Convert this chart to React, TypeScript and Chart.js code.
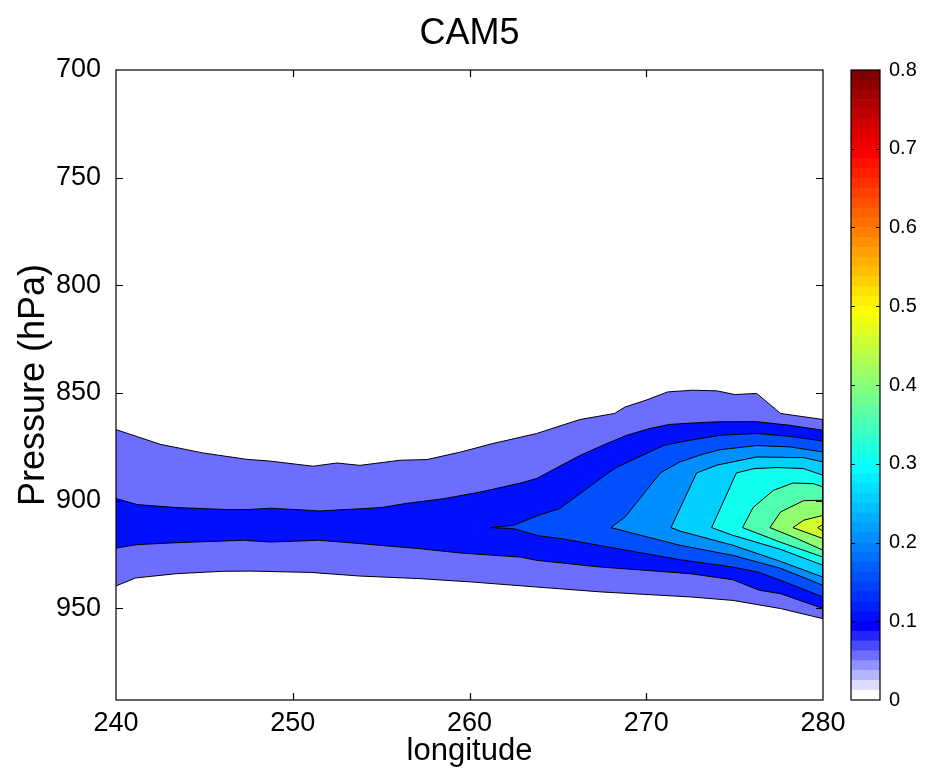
import React, { useEffect, useRef } from 'react';
import { Chart, registerables } from 'chart.js';

Chart.register(...registerables);

// ---------- text ----------
const titleText = 'CAM5';
const xLabel = 'longitude';
const yLabel = 'Pressure (hPa)';

// ---------- axes ----------
const lonMin = 240;
const lonMax = 280;
const lonStep = 10;
const pTop = 700;
const pBottom = 992.556;
const pStep = 50;

// ---------- colour bar ----------
const cbarMin = 0;
const cbarMax = 0.8;
const cbarCount = 64;
const cbarTickStep = 0.1;

// ---------- contour levels ----------
const levels = [0.05, 0.1, 0.15, 0.2, 0.25, 0.3, 0.35, 0.4, 0.45, 0.5];

// ---------- contour polygons (longitude, pressure) ----------
const lon05 = [240, 242.5, 244.9, 247.4, 248.7, 251.15, 252.5, 253.8, 256.1, 257.6, 259.5, 261.3, 263.8, 266.25, 268.2, 268.8, 270.0, 271.2, 272.6, 274.0, 275.0, 276.25, 277.6, 280,
  280, 277.6, 274.9, 272.5, 267.5, 263.8, 260.2, 257.2, 253.8, 251.0, 247.6, 246.0, 243.4, 241.1, 240];
const p05 = [867.0, 873.8, 877.8, 880.8, 881.6, 884.0, 882.5, 883.6, 881.2, 880.9, 877.4, 873.5, 868.8, 862.3, 859.5, 856.5, 853.3, 849.5, 848.7, 849.0, 850.7, 850.2, 859.5, 862.3,
  954.8, 950.1, 946.3, 944.7, 942.4, 940.1, 937.8, 936.2, 935.0, 933.3, 932.7, 932.8, 933.9, 935.9, 939.6];

const lon10 = [240, 241.2, 243.4, 246.25, 247.5, 248.75, 251.0, 251.5, 255.0, 256.4, 258.6, 260.6, 262.9, 263.8, 266.25, 267.76, 268.9, 270.2, 271.3, 272.66, 273.98, 276.25, 278.13, 280,
  280, 277.6, 276.4, 274.9, 272.5, 267.4, 263.8, 262.9, 259.5, 257.2, 254.9, 253.8, 251.5, 248.7, 247.2, 243.4, 241.2, 240];
const p10 = [899.0, 901.8, 903.2, 904.1, 904.1, 903.5, 904.5, 904.8, 903.2, 901.3, 899.0, 896.0, 891.8, 889.7, 879.0, 873.5, 869.6, 866.5, 864.6, 863.9, 863.4, 863.3, 865.0, 867.3,
  950.1, 943.2, 941.6, 936.7, 933.9, 930.8, 927.7, 926.2, 924.3, 922.3, 920.7, 919.9, 918.4, 919.2, 918.4, 919.5, 920.4, 922.0];

const lon15 = [261.2, 262.5, 263.9, 265.1, 267.8, 268.3, 271.0, 272.5, 274.2, 276.25, 278.1, 280,
  280, 277.6, 276.4, 274.9, 271.9, 265.1, 263.9, 262.5, 261.2];
const p15 = [912.5, 911.4, 906.8, 903.7, 887.4, 884.6, 874.3, 871.9, 869.6, 868.8, 870.1, 872.3,
  944.7, 937.0, 933.3, 930.8, 927.4, 917.5, 916.3, 913.0, 912.5];

const lon20 = [268.0, 268.8, 270.8, 271.9, 273.2, 274.2, 276.25, 278.1, 280, 280, 277.6, 274.9, 271.9, 268.0];
const p20 = [912.5, 907.6, 887.1, 882.0, 878.4, 876.3, 874.4, 875.0, 877.4, 939.3, 931.4, 925.4, 920.7, 912.5];

const lon25 = [271.4, 272.85, 274.0, 276.25, 278.9, 280, 280, 277.6, 274.9, 271.9, 271.4];
const p25 = [912.5, 887.1, 883.5, 879.7, 880.0, 882.0, 935.5, 928.2, 920.7, 914.1, 912.5];

const lon30 = [273.7, 275.1, 276.1, 277.4, 278.9, 280, 280, 277.6, 274.9, 273.7];
const p30 = [912.5, 887.1, 885.1, 884.6, 885.1, 888.2, 930.0, 922.6, 916.1, 912.5];

const lon35 = [275.45, 276.05, 277.2, 278.3, 279.45, 280, 280, 277.6, 275.45];
const p35 = [912.5, 903.1, 895.2, 891.8, 892.1, 893.6, 926.2, 919.3, 912.5];

const lon40 = [277.0, 277.6, 278.9, 280, 280, 278.5, 277.0];
const p40 = [912.5, 905.2, 900.0, 899.8, 923.0, 917.5, 912.5];

const lon45 = [278.3, 278.9, 280, 280, 278.3];
const p45 = [912.5, 909.1, 906.8, 917.6, 912.5];

const lon50 = [279.7, 280, 280, 279.7];
const p50 = [912.5, 911.0, 914.2, 912.5];

const polygonsLon = [lon05, lon10, lon15, lon20, lon25, lon30, lon35, lon40, lon45, lon50];
const polygonsP = [p05, p10, p15, p20, p25, p30, p35, p40, p45, p50];

// ---------- colour map (white->blue ramp + jet) ----------
const clamp01 = (v: number) => Math.max(0, Math.min(1, v));
function cmapColor(i: number): string {
  if (i <= 8) {
    const v = Math.round(255 * (1 - (i - 1) / 7));
    return `rgb(${v},${v},255)`;
  }
  const r = clamp01(Math.min((i - 24) / 16, (72 - i) / 16));
  const g = clamp01(Math.min((i - 8) / 16, (56 - i) / 16));
  const b = clamp01(Math.min((i + 8) / 16, (40 - i) / 16));
  return `rgb(${Math.round(r * 255)},${Math.round(g * 255)},${Math.round(b * 255)})`;
}
function levelColor(level: number): string {
  const idx = Math.floor(((level - cbarMin) / (cbarMax - cbarMin)) * cbarCount + 1e-6) + 1;
  return cmapColor(Math.min(cbarCount, idx));
}

const FONT = '"Liberation Sans", Arial, Helvetica, sans-serif';

const mainPlugin = {
  id: 'matlabBox',
  afterDatasetsDraw(chart: any) {
    const { ctx, chartArea: a, scales } = chart;
    ctx.save();
    ctx.strokeStyle = '#000';
    ctx.lineWidth = 1.2;
    ctx.beginPath();
    const tl = 7;
    for (let v = lonMin + lonStep; v < lonMax; v += lonStep) {
      const px = Math.round(scales.x.getPixelForValue(v)) + 0.5;
      ctx.moveTo(px, a.bottom);
      ctx.lineTo(px, a.bottom - tl);
      ctx.moveTo(px, a.top);
      ctx.lineTo(px, a.top + tl);
    }
    for (let v = pTop + pStep; v < pBottom; v += pStep) {
      const py = Math.round(scales.y.getPixelForValue(v)) + 0.5;
      ctx.moveTo(a.left, py);
      ctx.lineTo(a.left + tl, py);
      ctx.moveTo(a.right, py);
      ctx.lineTo(a.right - tl, py);
    }
    ctx.stroke();
    ctx.strokeRect(a.left, a.top, a.right - a.left, a.bottom - a.top);
    // title centred over the plot area
    ctx.fillStyle = '#000';
    ctx.font = `36px ${FONT}`;
    ctx.textAlign = 'center';
    ctx.textBaseline = 'middle';
    ctx.fillText(titleText, (a.left + a.right) / 2, 34);
    ctx.restore();
  },
};

const cbarPlugin = {
  id: 'cbarBox',
  afterDatasetsDraw(chart: any) {
    const { ctx, chartArea: a, scales } = chart;
    ctx.save();
    ctx.strokeStyle = '#000';
    ctx.lineWidth = 1.2;
    ctx.beginPath();
    const tl = 4;
    for (let k = 1; k * cbarTickStep < cbarMax - 1e-9; k++) {
      const py = Math.round(scales.y.getPixelForValue(cbarMin + k * cbarTickStep)) + 0.5;
      ctx.moveTo(a.left, py);
      ctx.lineTo(a.left + tl, py);
      ctx.moveTo(a.right, py);
      ctx.lineTo(a.right - tl, py);
    }
    ctx.stroke();
    ctx.strokeRect(a.left, a.top, a.right - a.left, a.bottom - a.top);
    ctx.restore();
  },
};

export default function App() {
  const mainRef = useRef<HTMLCanvasElement | null>(null);
  const cbarRef = useRef<HTMLCanvasElement | null>(null);

  useEffect(() => {
    Chart.defaults.color = '#000';
    const datasets = levels.map((lev, i) => ({
      label: String(lev),
      data: polygonsLon[i].map((x, j) => ({ x, y: polygonsP[i][j] })),
      showLine: true,
      fill: 'shape',
      backgroundColor: levelColor(lev),
      borderColor: '#000',
      borderWidth: 1,
      pointRadius: 0,
      tension: 0,
      order: 100 - i,
    }));

    const main = new Chart(mainRef.current as HTMLCanvasElement, {
      type: 'scatter',
      data: { datasets: datasets as any },
      options: {
        responsive: false,
        animation: false,
        devicePixelRatio: 1,
        events: [],
        layout: { padding: { left: 0, right: 104, top: 70, bottom: 0 } },
        plugins: {
          legend: { display: false },
          tooltip: { enabled: false },
          title: { display: false },
        },
        scales: {
          x: {
            type: 'linear',
            position: 'bottom',
            min: lonMin,
            max: lonMax,
            grid: { display: false, drawTicks: false },
            border: { display: false },
            ticks: { stepSize: lonStep, padding: 7, color: '#000', font: { size: 27, family: FONT } },
            title: {
              display: true,
              text: xLabel,
              color: '#000',
              font: { size: 31, family: FONT },
              padding: { top: 0, bottom: 4 },
            },
            afterFit: (s: any) => {
              s.height = 74;
            },
          },
          y: {
            type: 'linear',
            reverse: true,
            min: pTop,
            max: pBottom,
            grid: { display: false, drawTicks: false },
            border: { display: false },
            ticks: {
              stepSize: pStep,
              includeBounds: false,
              padding: 15,
              color: '#000',
              font: { size: 27, family: FONT },
            },
            title: {
              display: true,
              text: yLabel,
              color: '#000',
              font: { size: 36, family: FONT },
              padding: { top: 12, bottom: 0 },
            },
            afterFit: (s: any) => {
              s.width = 116;
            },
          },
        },
      },
      plugins: [mainPlugin],
    } as any);

    const step = (cbarMax - cbarMin) / cbarCount;
    const cbarDatasets = Array.from({ length: cbarCount }, (_, i) => ({
      data: [step],
      backgroundColor: cmapColor(i + 1),
      borderWidth: 0,
      barPercentage: 1,
      categoryPercentage: 1,
    }));

    const cbar = new Chart(cbarRef.current as HTMLCanvasElement, {
      type: 'bar',
      data: { labels: [''], datasets: cbarDatasets },
      options: {
        responsive: false,
        animation: false,
        devicePixelRatio: 1,
        events: [],
        layout: { padding: { left: 11, right: 0, top: 70, bottom: 74 } },
        plugins: { legend: { display: false }, tooltip: { enabled: false } },
        scales: {
          x: { display: false, stacked: true },
          y: {
            stacked: true,
            position: 'right',
            min: cbarMin,
            max: cbarMax,
            grid: { display: false, drawTicks: false },
            border: { display: false },
            ticks: {
              stepSize: cbarTickStep,
              padding: 9,
              color: '#000',
              font: { size: 20, family: FONT },
              callback: (v: any) => (Number(v) === 0 ? '0' : Number(v).toFixed(1)),
            },
            afterFit: (s: any) => {
              s.width = 47;
            },
          },
        },
      },
      plugins: [cbarPlugin],
    } as any);

    return () => {
      main.destroy();
      cbar.destroy();
    };
  }, []);

  return (
    <div style={{ position: 'absolute', left: 0, top: 0, width: 927, height: 774, background: '#fff' }}>
      <canvas ref={mainRef} width={927} height={774} style={{ position: 'absolute', left: 0, top: 0 }} />
      <canvas ref={cbarRef} width={87} height={774} style={{ position: 'absolute', left: 840, top: 0 }} />
    </div>
  );
}
